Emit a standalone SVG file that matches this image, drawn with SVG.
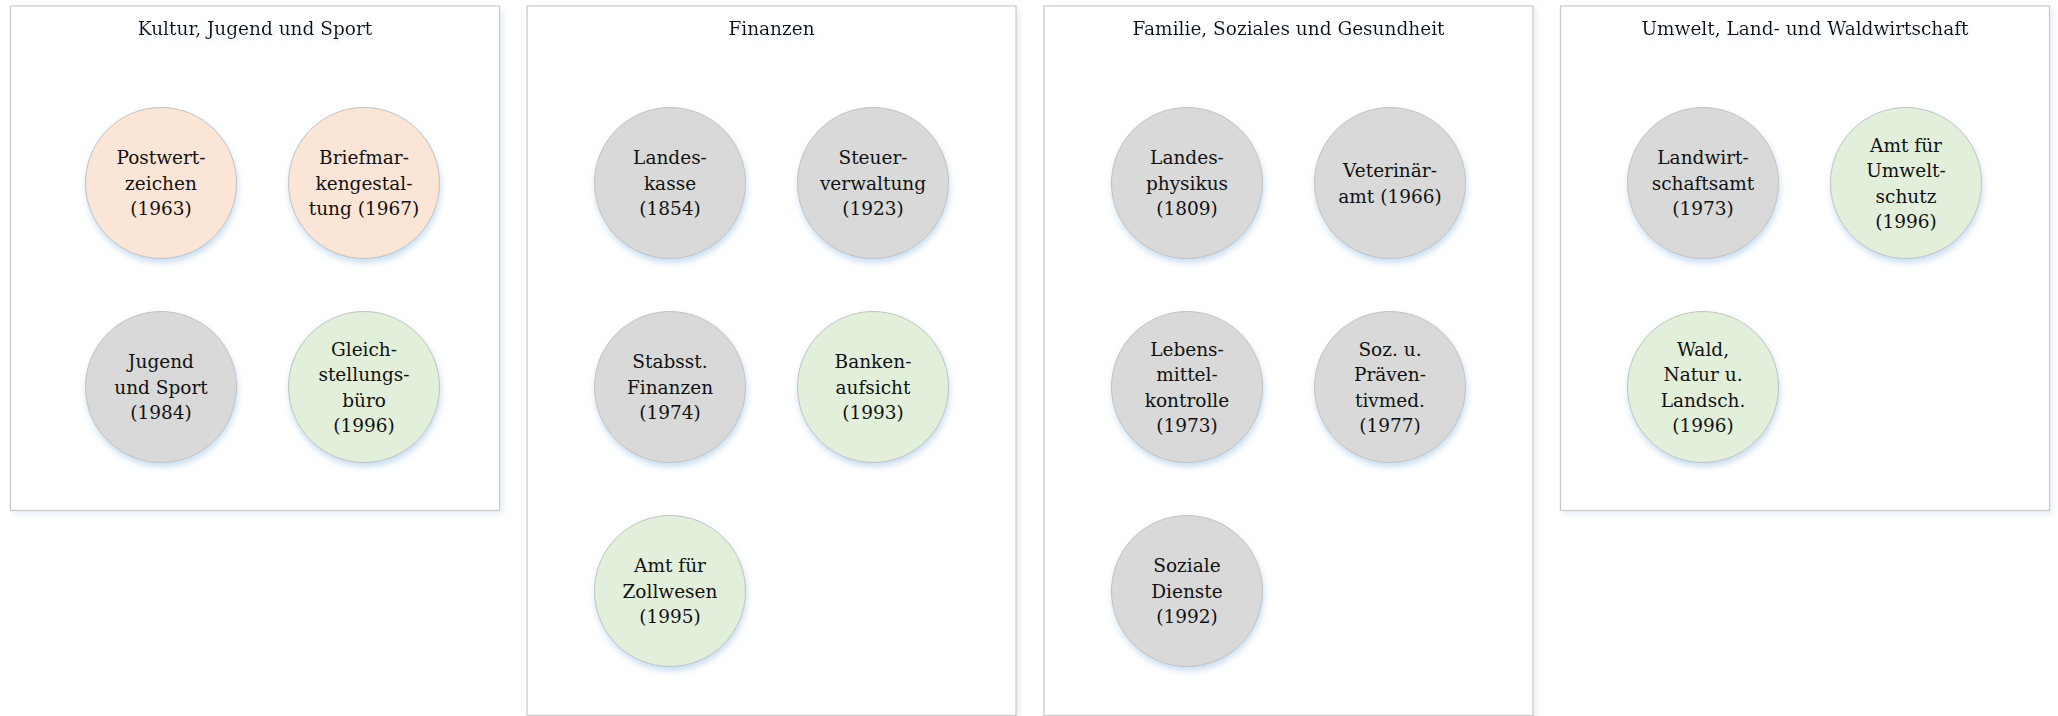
<svg xmlns="http://www.w3.org/2000/svg" width="2058" height="716" viewBox="0 0 2058 716">
<style>
  .panel { fill: #ffffff; stroke: #c9c9c9; stroke-width: 1.2; filter: url(#boxShadow); }
  .title { font-family: "DejaVu Serif", "Liberation Serif", serif; font-size: 18.5px; fill: #111111; text-anchor: middle; }
  .lbl { font-family: "DejaVu Serif", "Liberation Serif", serif; font-size: 18.5px; fill: #111111; text-anchor: middle; }
  .node { stroke: #c2c2c2; stroke-width: 1; filter: url(#nodeShadow); }
  .peach { fill: #fbe5d6; }
  .gray { fill: #d9d9d9; }
  .green { fill: #e2efda; }
</style>
<defs>
  <filter id="boxShadow" x="-5%" y="-5%" width="110%" height="110%">
    <feGaussianBlur in="SourceAlpha" stdDeviation="3"/>
    <feOffset dx="3" dy="3" result="b"/>
    <feFlood flood-color="#d5e2f0" flood-opacity="0.6"/>
    <feComposite in2="b" operator="in"/>
    <feMerge><feMergeNode/><feMergeNode in="SourceGraphic"/></feMerge>
  </filter>
  <filter id="nodeShadow" x="-20%" y="-20%" width="140%" height="150%">
    <feGaussianBlur in="SourceAlpha" stdDeviation="3"/>
    <feOffset dx="1" dy="4" result="b"/>
    <feFlood flood-color="#9dc3e6" flood-opacity="0.55"/>
    <feComposite in2="b" operator="in"/>
    <feMerge><feMergeNode/><feMergeNode in="SourceGraphic"/></feMerge>
  </filter>
  <filter id="textGlow" x="-10%" y="-50%" width="120%" height="200%">
    <feGaussianBlur in="SourceAlpha" stdDeviation="2.5"/>
    <feOffset dx="1" dy="3" result="b"/>
    <feFlood flood-color="#c5d9ee" flood-opacity="0.6"/>
    <feComposite in2="b" operator="in"/>
    <feMerge><feMergeNode/><feMergeNode in="SourceGraphic"/></feMerge>
  </filter>
</defs>

<g id="panel-kultur">
  <rect class="panel" x="10.5" y="6" width="489" height="504.5"/>
  <text class="title" x="255" y="35" filter="url(#textGlow)">Kultur, Jugend und Sport</text>
</g>
<g id="panel-finanzen">
  <rect class="panel" x="527" y="6" width="489" height="709.5"/>
  <text class="title" x="771.5" y="35" filter="url(#textGlow)">Finanzen</text>
</g>
<g id="panel-familie">
  <rect class="panel" x="1044" y="6" width="489" height="709.5"/>
  <text class="title" x="1288.5" y="35" filter="url(#textGlow)">Familie, Soziales und Gesundheit</text>
</g>
<g id="panel-umwelt">
  <rect class="panel" x="1560.5" y="6" width="489" height="504.5"/>
  <text class="title" x="1805" y="35" filter="url(#textGlow)">Umwelt, Land- und Waldwirtschaft</text>
</g>

<g id="connectors"></g>

<!-- Kultur, Jugend und Sport -->
<g id="n-postwertzeichen">
  <circle class="node peach" cx="161" cy="183" r="75.5"/>
  <text class="lbl" x="161" y="164">Postwert-</text>
  <text class="lbl" x="161" y="189.5">zeichen</text>
  <text class="lbl" x="161" y="215">(1963)</text>
</g>
<g id="n-briefmarkengestaltung">
  <circle class="node peach" cx="364" cy="183" r="75.5"/>
  <text class="lbl" x="364" y="164">Briefmar-</text>
  <text class="lbl" x="364" y="189.5">kengestal-</text>
  <text class="lbl" x="364" y="215">tung (1967)</text>
</g>
<g id="n-jugend-sport">
  <circle class="node gray" cx="161" cy="387" r="75.5"/>
  <text class="lbl" x="161" y="368">Jugend</text>
  <text class="lbl" x="161" y="393.5">und Sport</text>
  <text class="lbl" x="161" y="419">(1984)</text>
</g>
<g id="n-gleichstellungsbuero">
  <circle class="node green" cx="364" cy="387" r="75.5"/>
  <text class="lbl" x="364" y="355.5">Gleich-</text>
  <text class="lbl" x="364" y="381">stellungs-</text>
  <text class="lbl" x="364" y="406.5">büro</text>
  <text class="lbl" x="364" y="432">(1996)</text>
</g>

<!-- Finanzen -->
<g id="n-landeskasse">
  <circle class="node gray" cx="670" cy="183" r="75.5"/>
  <text class="lbl" x="670" y="164">Landes-</text>
  <text class="lbl" x="670" y="189.5">kasse</text>
  <text class="lbl" x="670" y="215">(1854)</text>
</g>
<g id="n-steuerverwaltung">
  <circle class="node gray" cx="873" cy="183" r="75.5"/>
  <text class="lbl" x="873" y="164">Steuer-</text>
  <text class="lbl" x="873" y="189.5">verwaltung</text>
  <text class="lbl" x="873" y="215">(1923)</text>
</g>
<g id="n-stabsstelle-finanzen">
  <circle class="node gray" cx="670" cy="387" r="75.5"/>
  <text class="lbl" x="670" y="368">Stabsst.</text>
  <text class="lbl" x="670" y="393.5">Finanzen</text>
  <text class="lbl" x="670" y="419">(1974)</text>
</g>
<g id="n-bankenaufsicht">
  <circle class="node green" cx="873" cy="387" r="75.5"/>
  <text class="lbl" x="873" y="368">Banken-</text>
  <text class="lbl" x="873" y="393.5">aufsicht</text>
  <text class="lbl" x="873" y="419">(1993)</text>
</g>
<g id="n-zollwesen">
  <circle class="node green" cx="670" cy="591" r="75.5"/>
  <text class="lbl" x="670" y="572">Amt für</text>
  <text class="lbl" x="670" y="597.5">Zollwesen</text>
  <text class="lbl" x="670" y="623">(1995)</text>
</g>

<!-- Familie, Soziales und Gesundheit -->
<g id="n-landesphysikus">
  <circle class="node gray" cx="1187" cy="183" r="75.5"/>
  <text class="lbl" x="1187" y="164">Landes-</text>
  <text class="lbl" x="1187" y="189.5">physikus</text>
  <text class="lbl" x="1187" y="215">(1809)</text>
</g>
<g id="n-veterinaeramt">
  <circle class="node gray" cx="1390" cy="183" r="75.5"/>
  <text class="lbl" x="1390" y="177">Veterinär-</text>
  <text class="lbl" x="1390" y="202.5">amt (1966)</text>
</g>
<g id="n-lebensmittelkontrolle">
  <circle class="node gray" cx="1187" cy="387" r="75.5"/>
  <text class="lbl" x="1187" y="355.5">Lebens-</text>
  <text class="lbl" x="1187" y="381">mittel-</text>
  <text class="lbl" x="1187" y="406.5">kontrolle</text>
  <text class="lbl" x="1187" y="432">(1973)</text>
</g>
<g id="n-praeventivmedizin">
  <circle class="node gray" cx="1390" cy="387" r="75.5"/>
  <text class="lbl" x="1390" y="355.5">Soz. u.</text>
  <text class="lbl" x="1390" y="381">Präven-</text>
  <text class="lbl" x="1390" y="406.5">tivmed.</text>
  <text class="lbl" x="1390" y="432">(1977)</text>
</g>
<g id="n-soziale-dienste">
  <circle class="node gray" cx="1187" cy="591" r="75.5"/>
  <text class="lbl" x="1187" y="572">Soziale</text>
  <text class="lbl" x="1187" y="597.5">Dienste</text>
  <text class="lbl" x="1187" y="623">(1992)</text>
</g>

<!-- Umwelt, Land- und Waldwirtschaft -->
<g id="n-landwirtschaftsamt">
  <circle class="node gray" cx="1703" cy="183" r="75.5"/>
  <text class="lbl" x="1703" y="164">Landwirt-</text>
  <text class="lbl" x="1703" y="189.5">schaftsamt</text>
  <text class="lbl" x="1703" y="215">(1973)</text>
</g>
<g id="n-umweltschutz">
  <circle class="node green" cx="1906" cy="183" r="75.5"/>
  <text class="lbl" x="1906" y="151.5">Amt für</text>
  <text class="lbl" x="1906" y="177">Umwelt-</text>
  <text class="lbl" x="1906" y="202.5">schutz</text>
  <text class="lbl" x="1906" y="228">(1996)</text>
</g>
<g id="n-wald-natur-landschaft">
  <circle class="node green" cx="1703" cy="387" r="75.5"/>
  <text class="lbl" x="1703" y="355.5">Wald,</text>
  <text class="lbl" x="1703" y="381">Natur u.</text>
  <text class="lbl" x="1703" y="406.5">Landsch.</text>
  <text class="lbl" x="1703" y="432">(1996)</text>
</g>
</svg>
